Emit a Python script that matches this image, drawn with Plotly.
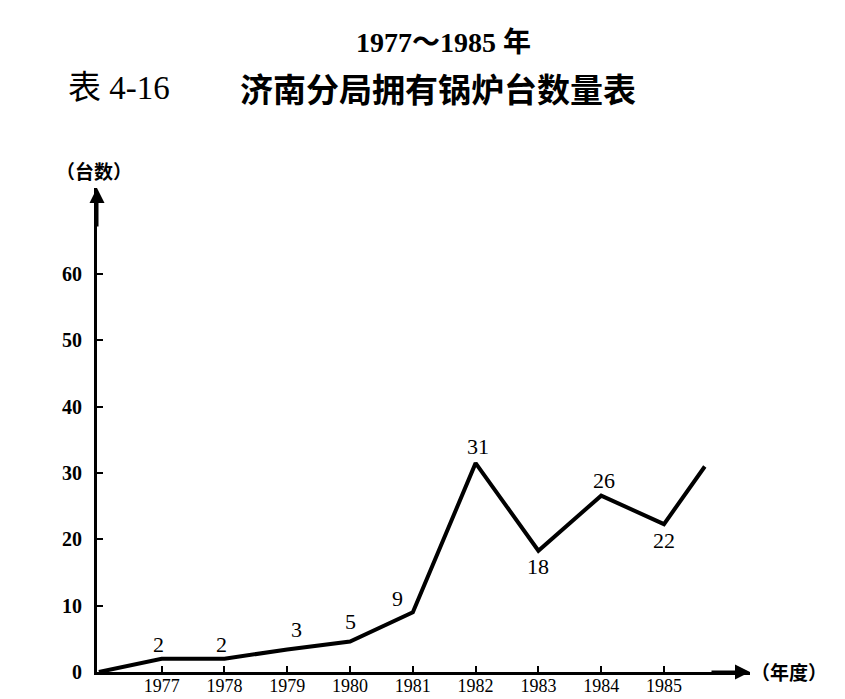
import plotly.graph_objects as go

# 济南分局拥有锅炉台数 1977~1985
years = [1976, 1977, 1978, 1979, 1980, 1981, 1982, 1983, 1984, 1985, 1985.65]
counts = [0, 2, 2, 3.4, 4.6, 9, 31.5, 18.3, 26.6, 22.3, 31]

label_years = [1977, 1978, 1979, 1980, 1981, 1982, 1983, 1984, 1985]
label_vals = [2, 2, 3.4, 4.6, 9, 31.5, 18.3, 26.6, 22.3]
labels = ["2", "2", "3", "5", "9", "31", "18", "26", "22"]
# pixel offsets of the value labels from their points
label_dx = [-3, -3, 9, 0, -15, 2, 0, 3, 0]
label_dy = [14, 14, 20, 20, 14, 17, -16, 15, -16]

tick_years = [1977, 1978, 1979, 1980, 1981, 1982, 1983, 1984, 1985]
y_ticks = [0, 10, 20, 30, 40, 50, 60]

x_lo, x_hi = 1975.97, 1986.37
y_top = 73

# the page body adds 8px around the figure
OFF = 8
W, H = 845 - OFF, 699 - OFF
# plot area in window pixels
L, R, T, B = 97, 750, 188, 672


def px(x):
    return (x - L) / (R - L)


def py(y):
    return (B - y) / (B - T)


serif = "Liberation Serif, Noto Sans CJK SC"
cjk = "Noto Sans CJK SC"

fig = go.Figure()
fig.add_trace(go.Scatter(
    x=years, y=counts, mode="lines",
    line=dict(color="black", width=4),
    showlegend=False, hoverinfo="skip"))

for xv, yv, t, dx, dy in zip(label_years, label_vals, labels, label_dx, label_dy):
    fig.add_annotation(x=xv, y=yv, text=t, showarrow=False,
                       xshift=dx, yshift=dy,
                       font=dict(family=serif, size=22, color="black"))

fig.update_layout(
    width=W, height=H,
    margin=dict(l=L - OFF, r=845 - R, t=T - OFF, b=699 - B),
    paper_bgcolor="white", plot_bgcolor="white",
    xaxis=dict(range=[x_lo, x_hi], tickvals=tick_years,
               ticktext=[str(t) for t in tick_years],
               automargin=False,
               showgrid=False, zeroline=False, showline=True,
               linecolor="black", linewidth=3, ticks="inside",
               ticklen=6, tickwidth=2, tickcolor="black",
               ticklabelstandoff=-5,
               tickfont=dict(family=serif, size=18, color="black")),
    yaxis=dict(range=[0, y_top], tickvals=y_ticks,
               automargin=False,
               showgrid=False, zeroline=False, showline=True,
               linecolor="black", linewidth=3, ticks="inside",
               ticklen=6, tickwidth=2, tickcolor="black",
               ticklabelstandoff=8,
               tickfont=dict(family="Liberation Serif", size=20, color="black",
                             weight="bold")),
)

# arrows on the axes
fig.add_annotation(x=x_lo, y=y_top, xref="x", yref="y", ax=0, ay=40,
                   text="", showarrow=True, arrowhead=2, arrowsize=1,
                   arrowwidth=3, arrowcolor="black")
fig.add_annotation(x=x_hi, y=0, xref="x", yref="y", ax=-40, ay=0,
                   text="", showarrow=True, arrowhead=2, arrowsize=1,
                   arrowwidth=3, arrowcolor="black")

fig.add_annotation(x=px(94), y=py(170), xref="paper", yref="paper",
                   xanchor="center", yanchor="middle",
                   showarrow=False, text="（台数）",
                   font=dict(family=cjk, size=19, color="black", weight="bold"))
fig.add_annotation(x=px(749), y=py(671), xref="paper", yref="paper",
                   xanchor="left", yanchor="middle", showarrow=False, text="（年度）",
                   font=dict(family=cjk, size=19, color="black", weight="bold"))

# titles
fig.add_annotation(x=px(443), y=py(42), xref="paper", yref="paper",
                   xanchor="center", yanchor="middle",
                   showarrow=False, text="1977～1985 年",
                   font=dict(family=serif, size=28, color="black", weight="bold"))
fig.add_annotation(x=px(66), y=py(88), xref="paper", yref="paper",
                   xanchor="left", yanchor="middle", showarrow=False, text="表 4-16",
                   font=dict(family=serif, size=33, color="black"))
fig.add_annotation(x=px(238), y=py(88), xref="paper", yref="paper",
                   xanchor="left", yanchor="middle", showarrow=False,
                   text="济南分局拥有锅炉台数量表",
                   font=dict(family=cjk, size=33, color="black", weight="bold"))

fig.write_html("out.html")
